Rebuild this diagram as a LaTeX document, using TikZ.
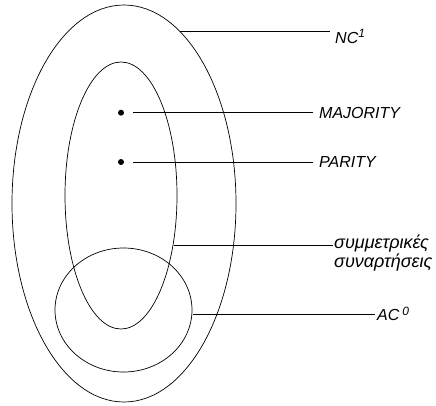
\documentclass[tikz,border=0pt]{standalone}
\usepackage{fontspec}
\setmainfont{Liberation Sans}
\usepackage{tikz}
\usetikzlibrary{shapes.geometric,positioning,calc}
\tikzset{
  cls/.style={draw, ellipse, inner sep=0pt, line width=0.7pt},
  lbl/.style={font=\fontsize{16}{14}\selectfont\itshape, inner sep=0pt, align=left},
  lnk/.style={line width=0.7pt},
  pt/.style={circle, fill, inner sep=0pt, minimum size=6pt},
}
\newcommand{\clsup}[1]{\raisebox{5.5pt}{\fontsize{12}{12}\selectfont #1}}
\begin{document}
\begin{tikzpicture}[x=1pt, y=-1pt]
    \useasboundingbox (0,0) rectangle (436,405);
    % classes
    \node[cls, minimum width=224pt, minimum height=397pt] (nc) at (124,203.5) {};
    \node[cls, minimum width=112pt, minimum height=267pt] (sym) at (121,195.5) {};
    \node[cls, minimum width=137pt, minimum height=124pt] (ac) at (123.5,310) {};
    % problems
    \node[pt] (maj) at (121,112.7) {};
    \node[pt] (par) at (121,162) {};
    % where the leaders leave the rings
    \coordinate (nctip) at (180,31.7);
    \coordinate (symtip) at (174,245);
    \coordinate (actip) at (193,314);
    % labels
    \node[lbl, anchor=base west] (ncl) at (335,43) {NC\clsup{1}};
    \node[lbl, anchor=west] (majl) at (319,112.7) {MAJORITY};
    \node[lbl, anchor=west] (parl) at (319,162) {PARITY};
    \node[lbl, font=\fontsize{18}{14}\selectfont\itshape, anchor=north west] (syml) at (334,235) {συμμετρικές\\συναρτήσεις};
    \node[lbl, anchor=west] (acl) at (377,314) {AC\hspace{3pt}\clsup{0}};
    \draw[lnk, shorten >=5pt] (nctip) -- (nctip -| ncl.west);
    \draw[lnk, shorten <=9pt, shorten >=6pt] (maj) -- (majl);
    \draw[lnk, shorten <=9pt, shorten >=6pt] (par) -- (parl);
    \draw[lnk, shorten >=1pt] (symtip) -- (symtip -| syml.west);
    \draw[lnk, shorten >=2pt] (actip) -- (acl);
  \end{tikzpicture}
\end{document}
